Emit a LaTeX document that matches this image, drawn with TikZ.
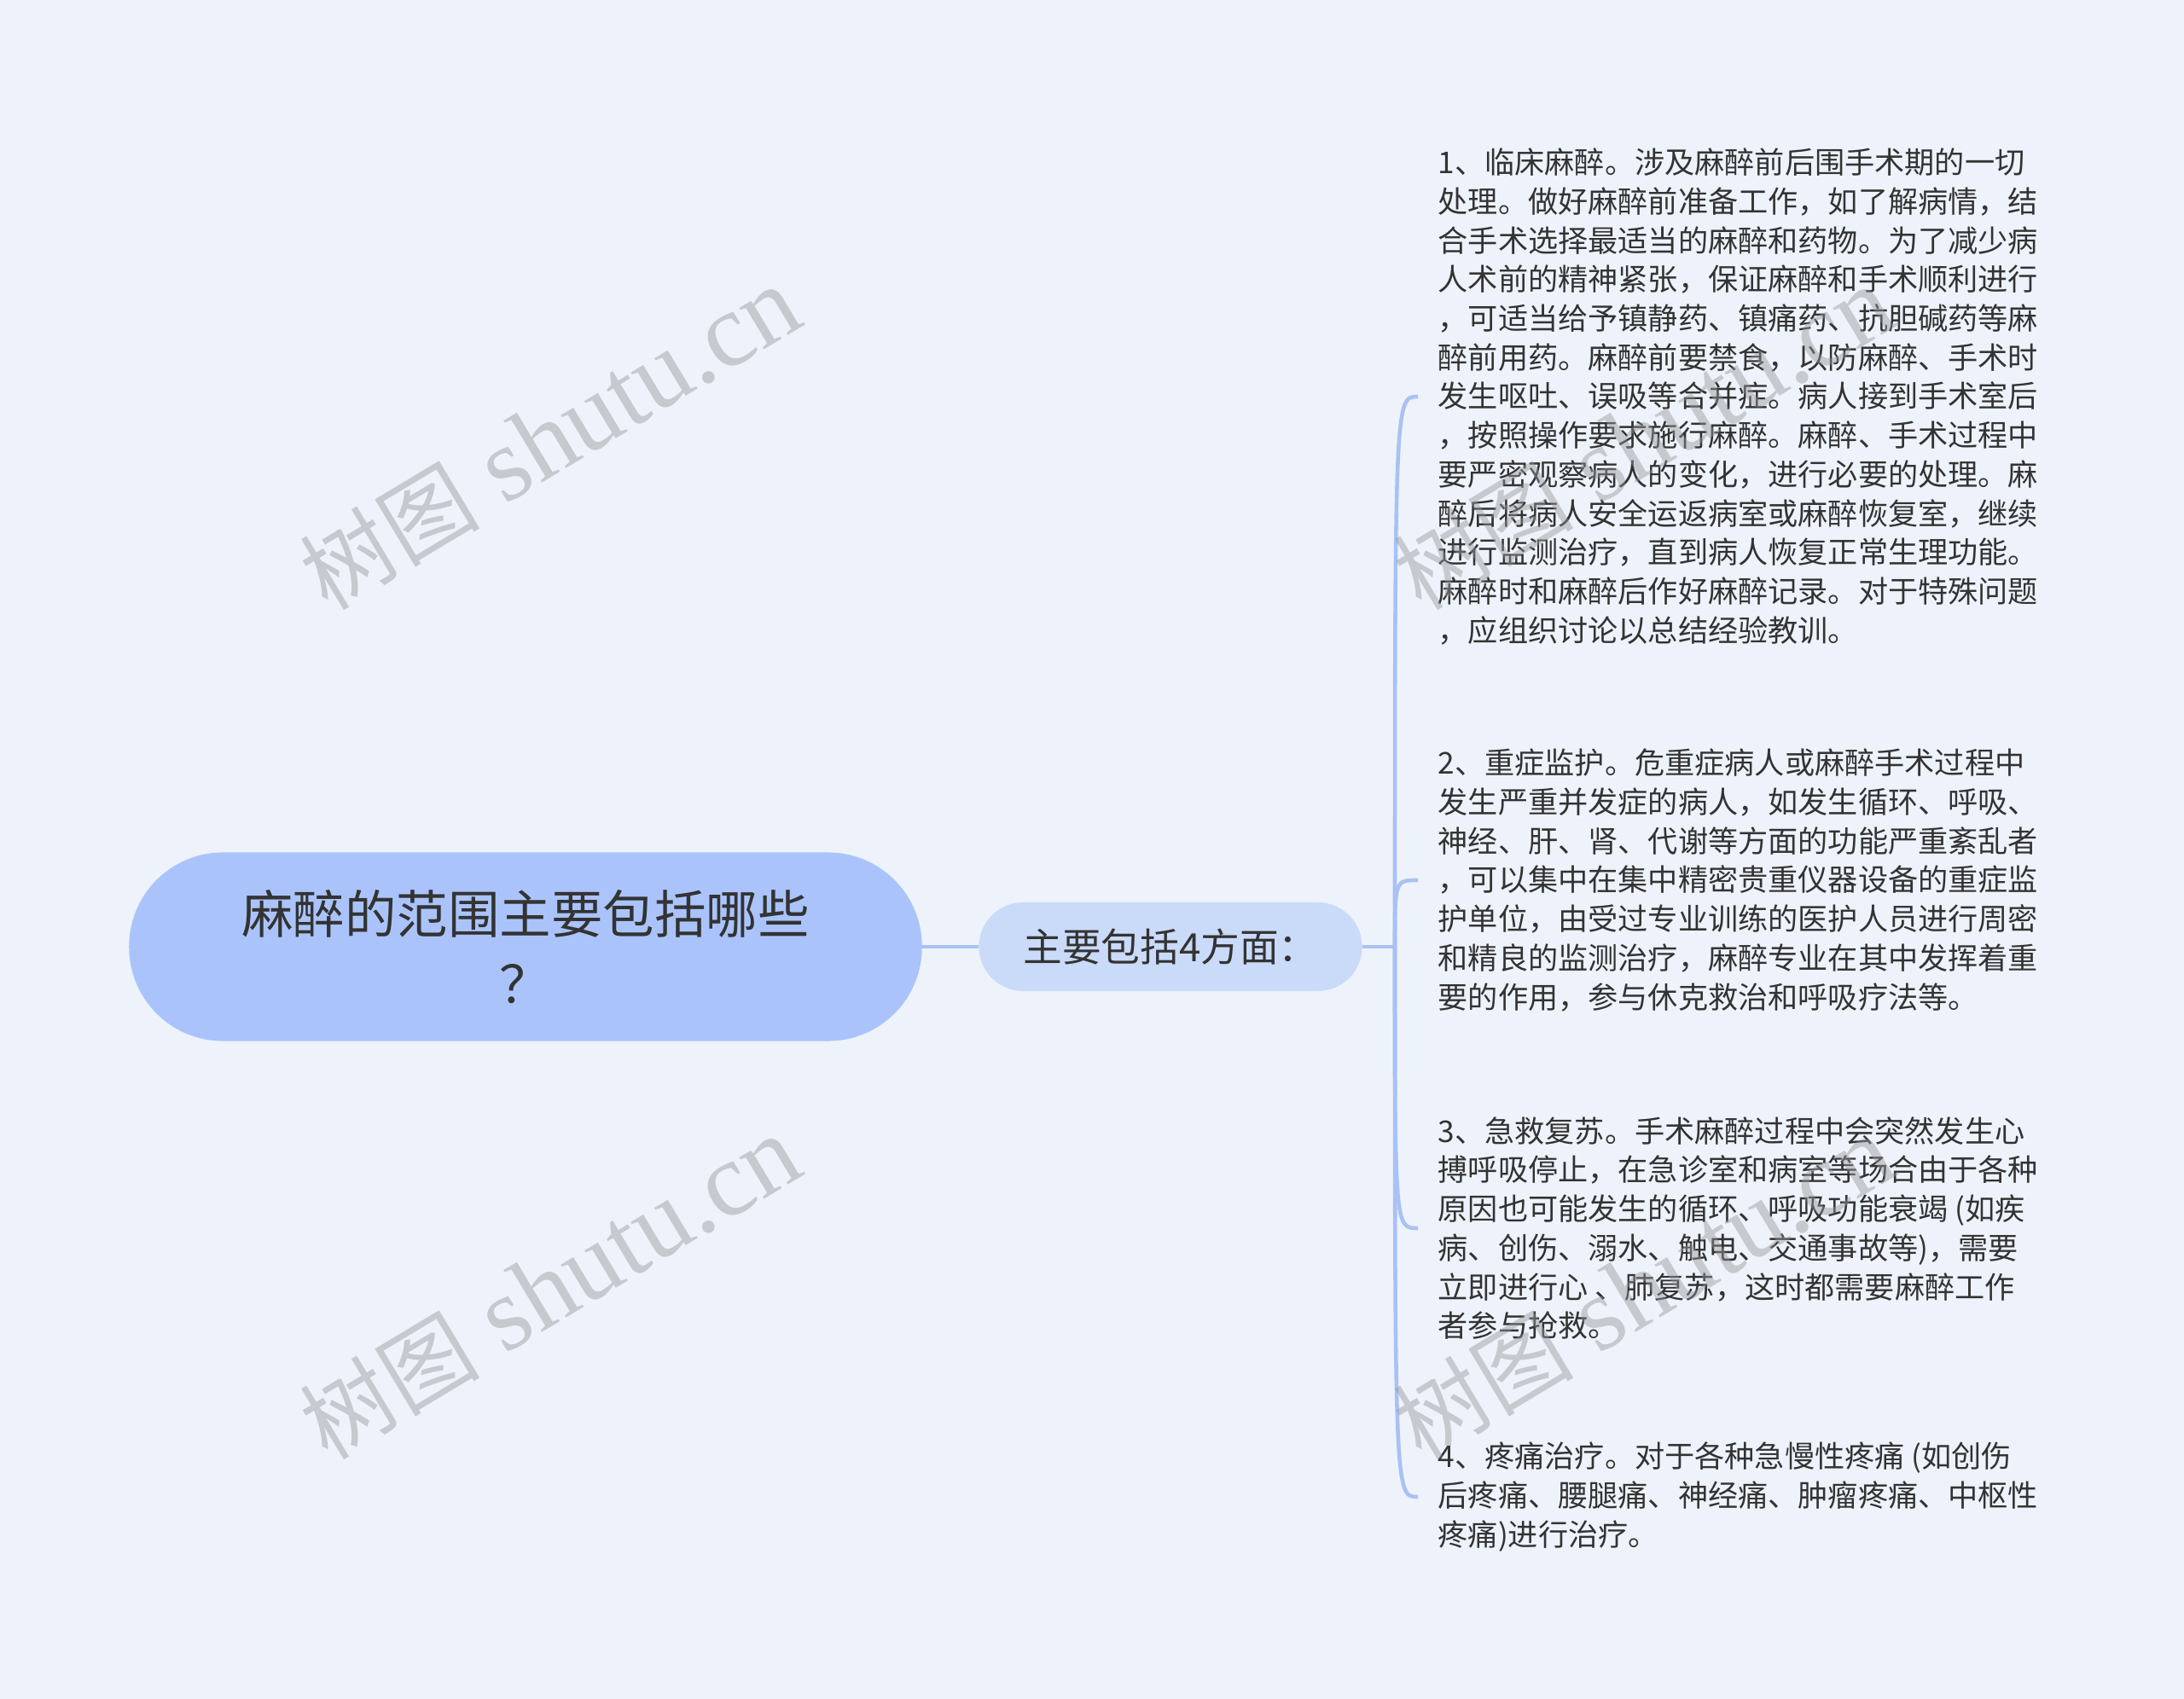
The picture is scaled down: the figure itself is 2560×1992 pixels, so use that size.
\documentclass[tikz,border=0pt]{standalone}
\usepackage{fontspec}
\setmainfont{Liberation Serif}
\newfontfamily\cjk{Noto Sans CJK SC}
\definecolor{bg}{HTML}{EEF3FB}
\definecolor{rootfill}{HTML}{AAC4FB}
\definecolor{mainfill}{HTML}{CADAF9}
\definecolor{linkcol}{HTML}{A9C1F4}
\definecolor{txt}{HTML}{333333}
\definecolor{markcol}{RGB}{150,150,152}
\begin{document}
\begin{tikzpicture}[x=0.01cm,y=-0.01cm,
    root/.style={fill=rootfill, rounded corners=1.1cm, minimum width=9.29cm,
      minimum height=2.21cm, align=center, text=txt,
      font=\cjk\fontsize{17.2}{23.3}\selectfont},
    topic/.style={fill=mainfill, rounded corners=0.52cm, minimum width=4.49cm,
      minimum height=1.04cm, text=txt, font=\cjk\fontsize{13}{15}\selectfont},
    leaf/.style={anchor=west, align=left, inner sep=0pt, text=txt,
      font=\cjk\fontsize{10}{13}\selectfont},
    link/.style={draw=linkcol, line width=1.3pt},
    wmark/.style={rotate=31, text=markcol, opacity=0.45,
      font=\fontsize{35}{35}\selectfont}]
    \fill[bg] (0,0) rectangle (2560,1992);
    \useasboundingbox (0,0) rectangle (2560,1992);
    \coordinate (J) at (1635,1110);
    \node[root] (q) at (616,1110) {麻醉的范围主要包括哪些\\？};
    \node[topic] (m) at (1372,1110) {主要包括4方面：};
    \node[leaf] (p1) at (1685,465) {1、临床麻醉。涉及麻醉前后围手术期的一切\\
      处理。做好麻醉前准备工作，如了解病情，结\\
      合手术选择最适当的麻醉和药物。为了减少病\\
      人术前的精神紧张，保证麻醉和手术顺利进行\\
      ，可适当给予镇静药、镇痛药、抗胆碱药等麻\\
      醉前用药。麻醉前要禁食，以防麻醉、手术时\\
      发生呕吐、误吸等合并症。病人接到手术室后\\
      ，按照操作要求施行麻醉。麻醉、手术过程中\\
      要严密观察病人的变化，进行必要的处理。麻\\
      醉后将病人安全运返病室或麻醉恢复室，继续\\
      进行监测治疗，直到病人恢复正常生理功能。\\
      麻醉时和麻醉后作好麻醉记录。对于特殊问题\\
      ，应组织讨论以总结经验教训。};
    \node[leaf] (p2) at (1685,1032) {2、重症监护。危重症病人或麻醉手术过程中\\
      发生严重并发症的病人，如发生循环、呼吸、\\
      神经、肝、肾、代谢等方面的功能严重紊乱者\\
      ，可以集中在集中精密贵重仪器设备的重症监\\
      护单位，由受过专业训练的医护人员进行周密\\
      和精良的监测治疗，麻醉专业在其中发挥着重\\
      要的作用，参与休克救治和呼吸疗法等。};
    \node[leaf] (p3) at (1685,1440) {3、急救复苏。手术麻醉过程中会突然发生心\\
      搏呼吸停止，在急诊室和病室等场合由于各种\\
      原因也可能发生的循环、呼吸功能衰竭 (如疾\\
      病、创伤、溺水、触电、交通事故等)，需要\\
      立即进行心 、肺复苏，这时都需要麻醉工作\\
      者参与抢救。};
    \node[leaf] (p4) at (1685,1755) {4、疼痛治疗。对于各种急慢性疼痛 (如创伤\\
      后疼痛、腰腿痛、神经痛、肿瘤疼痛、中枢性\\
      疼痛)进行治疗。};
    \draw[link] (q) -- (m);
    \draw[link] (m) -- (J);
    % each branch bends off the trunk just before its text
    \foreach \p in {p1,p2,p3,p4}
      \draw[link] (J) .. controls (J |- \p.west) .. ([xshift=-0.23cm]\p.west);
    \node[wmark] (w1) at (645,514) {{\cjk\fontsize{30}{30}\selectfont 树图} shutu.cn};
    \node[wmark] (w2) at (645,1510) {{\cjk\fontsize{30}{30}\selectfont 树图} shutu.cn};
    \node[wmark] (w3) at (1927,514) {{\cjk\fontsize{30}{30}\selectfont 树图} shutu.cn};
    \node[wmark] (w4) at (1927,1510) {{\cjk\fontsize{30}{30}\selectfont 树图} shutu.cn};
\end{tikzpicture}
\end{document}
